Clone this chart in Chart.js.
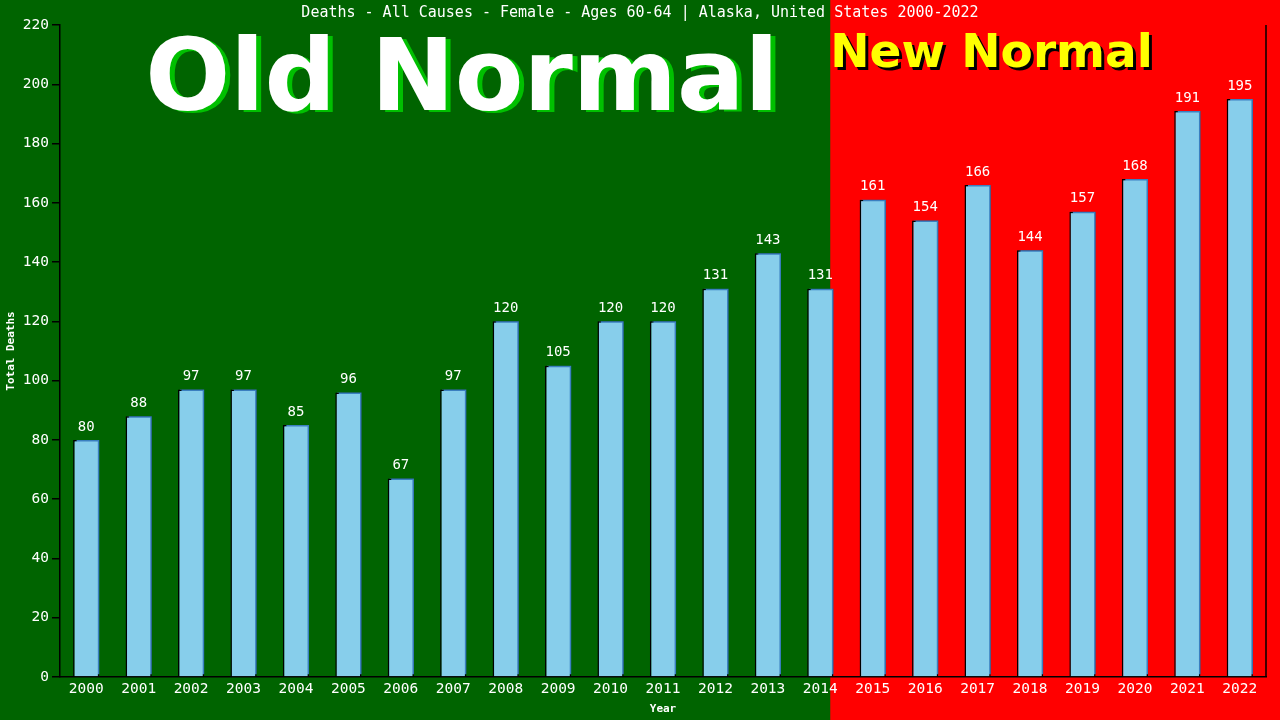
<!DOCTYPE html>
<html>
<head>
<meta charset="utf-8">
<script src="https://cdn.jsdelivr.net/npm/chart.js@4.4.1/dist/chart.umd.min.js"></script>
<style>
  html, body { margin: 0; padding: 0; background: #006400; }
  #wrap { width: 1280px; height: 720px; }
</style>
</head>
<body>
<div id="wrap"><canvas id="result" width="1280" height="720"></canvas></div>
<script>
const years = ['2000', '2001', '2002', '2003', '2004', '2005', '2006', '2007', '2008', '2009', '2010', '2011',
    '2012', '2013', '2014', '2015', '2016', '2017', '2018', '2019', '2020', '2021', '2022'];
const deaths = [80, 88, 97, 97, 85, 96, 67, 97, 120, 105, 120, 120, 131, 143, 131, 161, 154, 166, 144, 157, 168, 191, 195];
const yTicks = [0, 20, 40, 60, 80, 100, 120, 140, 160, 180, 200, 220];

const titleText = 'Deaths - All Causes - Female - Ages 60-64 | Alaska, United States 2000-2022';
const oldLabel = 'Old Normal';
const newLabel = 'New Normal';
const newNormalFrom = 14; // last "old" year index, red starts just right of it

const mono = '"DejaVu Sans Mono", "Liberation Mono", monospace';
const sans = '"DejaVu Sans", Verdana, sans-serif';

// background halves + big banner texts
const backdrop = {
    id: 'backdrop',
    beforeDraw(chart) {
        let ctx = chart.ctx;
        let x = chart.scales.x;
        let w = x.getPixelForValue(1) - x.getPixelForValue(0);
        let split = x.getPixelForValue(newNormalFrom) + w * 0.19;
        ctx.save();
        ctx.fillStyle = '#006400';
        ctx.fillRect(0, 0, chart.width, chart.height);
        ctx.fillStyle = '#ff0000';
        ctx.fillRect(split, 0, chart.width - split, chart.height);

        ctx.textBaseline = 'alphabetic';
        ctx.font = 'bold 100px ' + sans;
        ctx.textAlign = 'center';
        ctx.fillStyle = '#00c000';
        ctx.fillText(oldLabel, 467, 112);
        ctx.fillStyle = '#ffffff';
        ctx.fillText(oldLabel, 462, 110);

        ctx.font = 'bold 47px ' + sans;
        ctx.textAlign = 'left';
        ctx.fillStyle = '#000000';
        ctx.fillText(newLabel, split + 3, 70);
        ctx.fillStyle = '#ffff00';
        ctx.fillText(newLabel, split, 67);

        ctx.font = '15px ' + mono;
        ctx.textAlign = 'center';
        ctx.textBaseline = 'middle';
        ctx.fillStyle = '#ffffff';
        ctx.fillText(titleText, 640, 13);
        ctx.restore();
    },
    beforeDatasetsDraw(chart) {
        let ctx = chart.ctx;
        ctx.save();
        ctx.shadowColor = '#3a7fc0';
        ctx.shadowOffsetX = 2;
        ctx.shadowOffsetY = -2;
        ctx.shadowBlur = 0;
    },
    afterDatasetsDraw(chart) {
        let ctx = chart.ctx;
        ctx.restore();
        let a = chart.chartArea;
        ctx.save();
        ctx.strokeStyle = '#000';
        ctx.lineWidth = 1.5;
        ctx.beginPath();
        ctx.moveTo(a.right, a.top);
        ctx.lineTo(a.right, a.bottom);
        ctx.stroke();

        ctx.font = '14px ' + mono;
        ctx.fillStyle = '#ffffff';
        ctx.textAlign = 'center';
        ctx.textBaseline = 'middle';
        chart.getDatasetMeta(0).data.forEach((bar, i) => {
            ctx.fillText('' + deaths[i], bar.x, bar.y - 13);
        });
        ctx.restore();
    }
};

let ctx = document.getElementById('result').getContext('2d');
let myChart = new Chart(ctx, {
    type: 'bar',
    data: {
        labels: years,
        datasets: [{
            data: deaths,
            backgroundColor: '#87ceeb',
            borderColor: '#000000',
            borderWidth: 1.5,
            borderSkipped: 'bottom',
            categoryPercentage: 1,
            barPercentage: 0.5
        }]
    },
    options: {
        responsive: false,
        animation: false,
        devicePixelRatio: 1,
        layout: { padding: { top: 25, right: 14, left: 0, bottom: 0 } },
        plugins: { legend: { display: false }, tooltip: { enabled: false }, title: { display: false } },
        scales: {
            x: {
                grid: { display: false, drawTicks: false },
                border: { display: true, color: '#000', width: 1.5 },
                ticks: { color: '#fff', font: { family: mono, size: 14.5 }, padding: 4, maxRotation: 0, autoSkip: false },
                title: { display: true, text: 'Year', color: '#fff', font: { family: mono, size: 11, weight: 'bold' }, padding: { top: 0, bottom: 4 } },
                afterFit(scale) { scale.height = 43; }
            },
            y: {
                min: 0,
                max: 220,
                afterBuildTicks(scale) { scale.ticks = yTicks.map(v => ({ value: v })); },
                grid: { display: true, drawOnChartArea: false, drawTicks: true, tickLength: 8, color: '#000', lineWidth: 1.5 },
                border: { display: true, color: '#000', width: 1.5 },
                ticks: { color: '#fff', font: { family: mono, size: 14.5 }, padding: 3 },
                title: { display: true, text: 'Total Deaths', color: '#fff', font: { family: mono, size: 11, weight: 'bold' }, padding: { top: 5, bottom: 0 } },
                afterFit(scale) { scale.width = 60; }
            }
        }
    },
    plugins: [backdrop]
});
</script>
</body>
</html>
